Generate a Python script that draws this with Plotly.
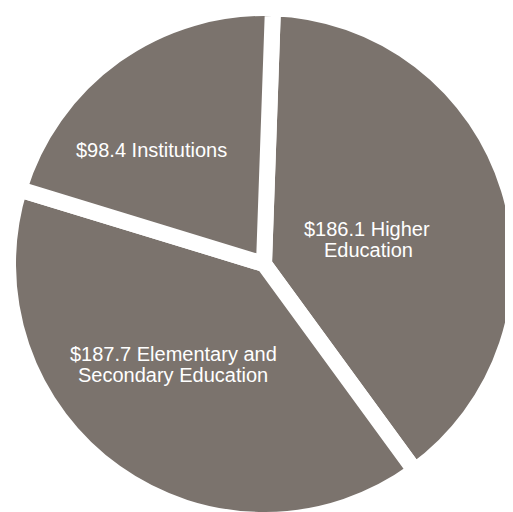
import plotly.graph_objects as go

# ---- data ----
categories = ["Higher Education", "Elementary and Secondary Education", "Institutions"]
values = [186.1, 187.7, 98.4]
# label lines as printed on the chart (one list per slice)
label_lines = [
    ["$186.1 Higher", "Education"],
    ["$187.7 Elementary and", "Secondary Education"],
    ["$98.4 Institutions"],
]

# ---- layout / style (not data) ----
# The page shows the figure offset by the body margin; the figure is made a bit
# larger than the window so the pie can be as large as in the reference.
OFF = 8
W, H = 560, 560
R = 256                      # pie radius in figure pixels (incl. half gap stroke)
slice_color = "#7b736d"
gap_width = 16
# label line visual centres in page pixels (x, y)
label_pos = [
    [(367, 229), (368, 250)],
    [(173, 354), (173, 375)],
    [(151, 150)],
]

fig = go.Figure(
    go.Pie(
        labels=categories,
        values=values,
        sort=False,
        direction="clockwise",
        rotation=2,
        marker=dict(colors=[slice_color] * len(values),
                    line=dict(color="white", width=gap_width)),
        textinfo="none",
        hoverinfo="skip",
        showlegend=False,
        domain=dict(x=[0, 2 * R / W], y=[1 - 2 * R / H, 1]),
    )
)

annotations = []
for lines, poss in zip(label_lines, label_pos):
    for txt, (px, py) in zip(lines, poss):
        annotations.append(dict(
            text=txt, x=(px - OFF) / W, y=1 - (py - OFF) / H,
            xref="paper", yref="paper",
            xanchor="center", yanchor="middle", showarrow=False,
            font=dict(family="Liberation Sans, Arial, Helvetica, sans-serif",
                      size=20, color="white"),
        ))

fig.update_layout(
    width=W, height=H,
    margin=dict(l=0, r=0, t=0, b=0),
    paper_bgcolor="white", plot_bgcolor="white",
    annotations=annotations,
)

fig.write_html("out.html")
